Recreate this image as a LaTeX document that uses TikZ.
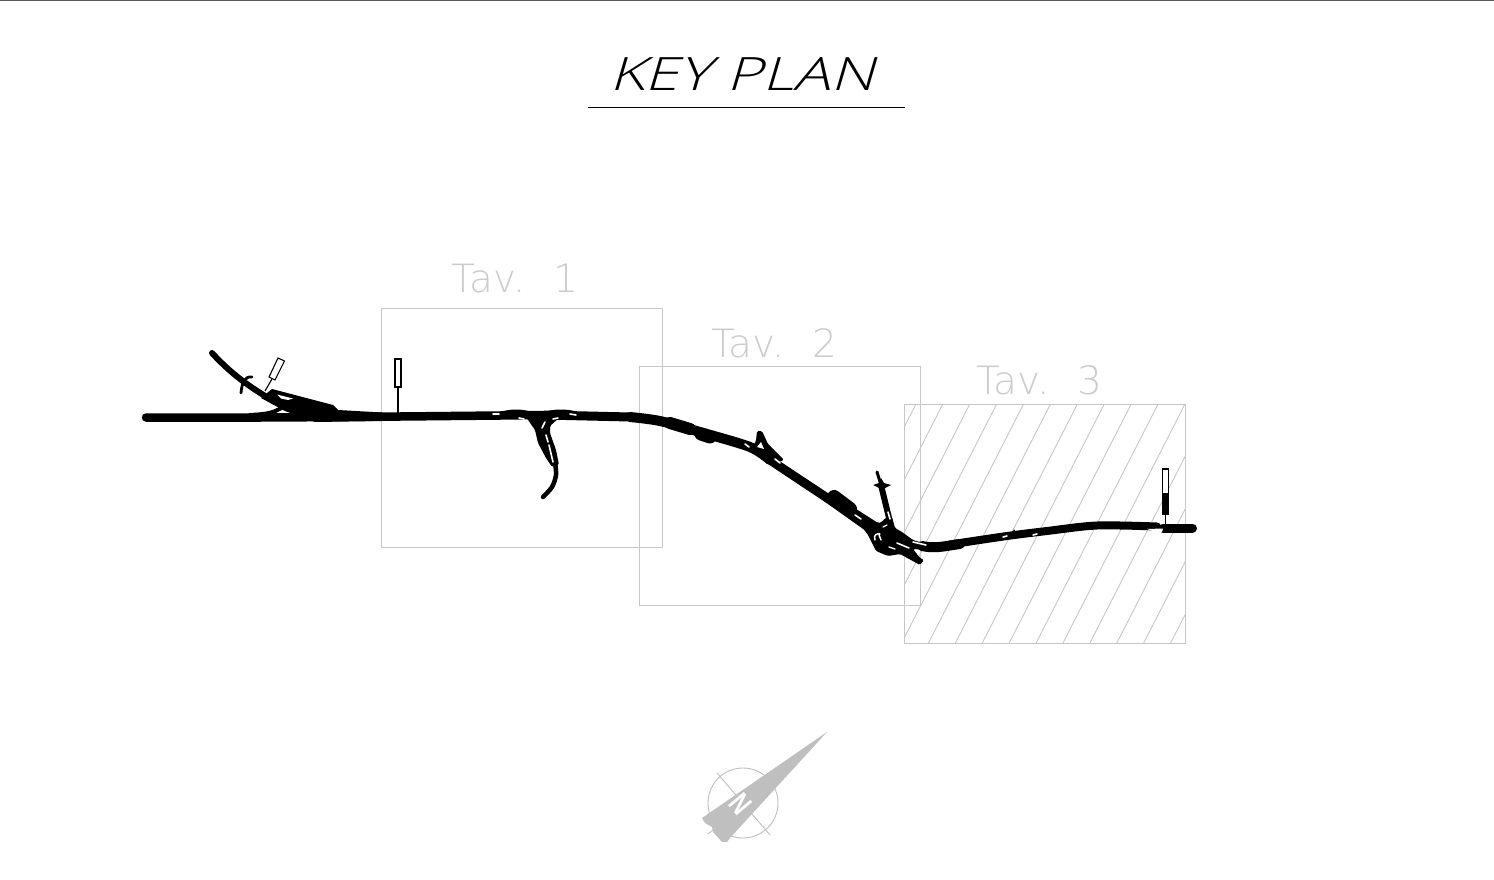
\documentclass[tikz,border=0pt]{standalone}
\usepackage{fontspec}
\setmainfont{Liberation Sans}
\newfontfamily\tavfont{DejaVu Sans ExtraLight}
\newfontfamily\titlefont[FakeSlant=.22]{Open Sans Light}
\tikzset{
	sheet/.style={draw=black!22, line width=1pt},
	hatchline/.style={draw=black!22, line width=.9pt},
	sheetlabel/.style={text=black!20, inner sep=0pt, font=\tavfont\fontsize{39}{42}\selectfont},
	road/.style={draw=black, line cap=round, line join=round},
	mass/.style={fill=black, rounded corners=1.5pt},
	slit/.style={draw=white, line cap=round, line width=1.6pt},
	marker/.style={draw=black, fill=white, line width=1.1pt},
	northgrey/.style={fill=black!25, draw=none},
	northline/.style={draw=black!25, line width=.9pt},
}
\begin{document}
\begin{tikzpicture}[x=1pt,y=-1pt]
		\useasboundingbox (0,0) rectangle (1494,880);
		\draw[line width=1pt, black!65] (0,.5) -- (1494,.5);

		% title
		\node[inner sep=0pt, xscale=1.33, font=\titlefont\fontsize{46}{50}\selectfont] (title) at (742,74) {KEY PLAN};
		\draw[line width=1pt] (588,107.5) -- (905,107.5);

		% sheets
		\begin{scope}
			\clip (904.5,404) rectangle (1185,643);
			\foreach \i in {0,...,15}
				\draw[hatchline] (916+26.9*\i,404) -- (794+26.9*\i,643);
		\end{scope}
		\draw[sheet] (381,308) rectangle (662,547);
		\draw[sheet] (639.5,366) rectangle (920.5,605);
		\draw[sheet] (904.5,404) rectangle (1185,643);
		\node[sheetlabel] (tav1) at (515,279) {Tav.\hspace{28pt}1};
		\node[sheetlabel] (tav2) at (774.5,343) {Tav.\hspace{28pt}2};
		\node[sheetlabel] (tav3) at (1039.5,380) {Tav.\hspace{28pt}3};

		% markers
		\draw[marker] (278,358) -- (284.5,361) -- (275,380) -- (269,377) -- cycle;
		\draw[line width=1.1pt] (272,379) -- (265,391);
		\draw[marker] (395,359) rectangle (401,387);
		\draw[line width=1.1pt] (398,387) -- (398,416);
		\draw[marker] (1162.5,469) rectangle (1168.5,514);
		\draw[road, line width=6pt, line cap=butt] (1165.5,493) -- (1165.5,514);
		\draw[line width=1.1pt] (1165.5,514) -- (1165.5,526);

		% west end
		\draw[road, line width=6pt] (212,353) .. controls (235,378) and (255,390) .. (275,402);
		\draw[road, line width=2.8pt] (252,377) .. controls (245,376) and (242,382) .. (241,393);
		\fill (261,398) -- (272,389) -- (333,405) -- (338,410) -- (382,412.5) -- (382,421) -- (315,422) -- (285,411) -- cycle;
		\draw[road, line width=4pt] (283,407) .. controls (273,413) and (268,414) .. (250,415);
		\fill[white] (277,394.5) -- (293,398.5) -- (288,400) -- (281,398.5) -- cycle;

		% main road
		\draw[road, line width=8.5pt] plot[smooth] coordinates {(146,417.5) (260,417.5) (340,417) (400,416.5) (500,415.5) (545,415)};
		\draw[road, line width=9pt] (545,415) -- (630,417);
		\draw[road, line width=10pt] plot[smooth] coordinates {(630,417) (660,421) (700,432) (750,447) (770,460)};
		\draw[road, line width=9pt] plot[smooth] coordinates {(770,460) (800,480) (830,500) (875,532)};
		\draw[road, line width=6pt] (504,414) .. controls (512,412) and (520,412) .. (528,414);
		\draw[road, line width=6pt] (548,414) .. controls (556,412) and (566,412) .. (574,414);
		\draw[road, line width=12pt] (670,423) -- (690,429);
		\draw[road, line width=13pt] (701,434) -- (710,437);
		\draw[road, line width=14pt] (834,497) -- (850,509);

		% south branch
		\fill[mass] (526,417) -- (560,417) -- (550,426) -- (550,433) -- (556,450) -- (559,465) -- (552,467) -- (546,458) -- (538,443) -- (535,430) -- cycle;
		\draw[road, line width=4.5pt] plot[smooth] coordinates {(555,462) (556,475) (552,487) (543,497)};
		\draw[slit] (545,422) -- (542,428);
		\draw[slit] (546,435) -- (548,442);
		\draw[slit] (549,445) -- (553,462);

		% triangle
		\fill[mass] (757,431) -- (762,431) -- (768,444) -- (784,460) -- (770,465) -- (750,451) -- (756,441) -- cycle;
		\fill[white] (761,442) -- (764,449) -- (757,447) -- cycle;

		% north spur and star
		\draw[road, line width=3pt] (877,472) -- (881,485);
		\draw[road, line width=6pt] (881,485) -- (890,522);
		\fill (873,485) -- (879,483) -- (881,478) -- (884,483) -- (891,485) -- (885,488) -- (882,493) -- (879,488) -- cycle;

		% interchange
		\fill[mass] (853,507) -- (878,523) -- (882,522) -- (885,518) -- (892,517) -- (895,528) -- (902,532) -- (913,540) -- (930,545) -- (930,550) -- (913,549) -- (920,558) -- (924,560) -- (920,565) -- (900,554) -- (888,556) -- (876,551) -- (868,535) -- (860,524) -- (843,513) -- cycle;

		% east
		\draw[road, line width=10pt] (922,546) .. controls (935,549) and (945,546) .. (960,544);
		\draw[road, line width=8pt] plot[smooth] coordinates {(950,544.5) (1007,536) (1047,531) (1097,525.5) (1157,526.5)};
		\draw[road, line width=9pt] (1163,528) -- (1192.5,528);
		\fill (1012,534) -- (1014,529) -- (1017,534) -- cycle;

		% white slits
		\foreach \a/\b/\c/\d in {
			493/414/499/414, 519/418/524/419, 553/419/558/418, 570/414/576/415,
			745/444/749/447, 775/459/780/463, 855/515/861/519,
			888/512/890/519, 897/543/909/548, 913/542/926/545,
			1003/537/1007/536, 1033/535/1037/534}
			\draw[slit] (\a,\b) -- (\c,\d);
		\draw[slit, line width=1.5pt] (875,540) .. controls (873,535) and (877,533) .. (880,534) (879,535) -- (881,540);
		\draw[slit, line width=1.3pt] (883,527) -- (887,525);
		\draw[slit, line width=1.3pt] (889,547) -- (895,549);
		\fill[white] (1147,529) -- (1163,528.5) -- (1162,532) -- (1153,531) -- cycle;

		% north arrow
		\draw[northline] (743,803) circle (35pt);
		\draw[northline] (717,773) -- (770,835);
		\draw[northline] (708,834) -- (730,816);
		\fill[northgrey] (827,732) -- (730,838) -- (727,842) -- (722,842) -- (713,832) -- (712,827) -- (705,823) -- (702,818) -- cycle;
		\node[text=white, inner sep=0pt, rotate=-50, xscale=.75, font=\fontsize{30}{30}\selectfont\bfseries] (northN) at (741,804) {N};
	\end{tikzpicture}
\end{document}
